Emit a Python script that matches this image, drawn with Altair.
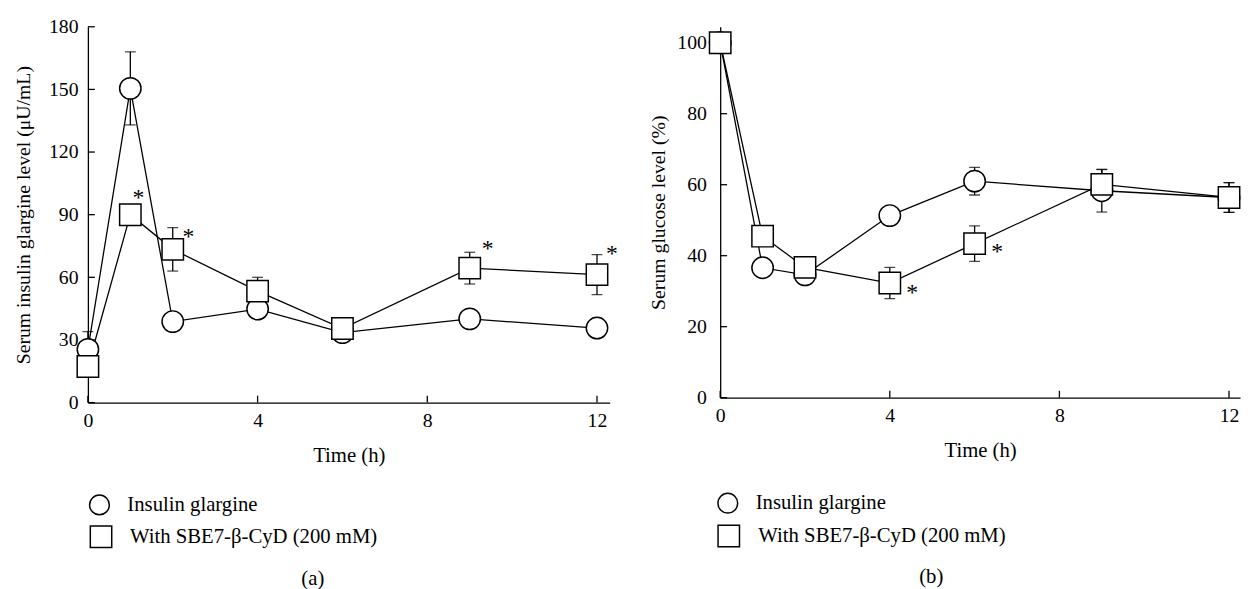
import altair as alt
import pandas as pd

FONT = "Liberation Serif"

# ---------------- data ----------------
time_h = [0, 1, 2, 4, 6, 9, 12]
series_names = ["Insulin glargine", "With SBE7-β-CyD (200 mM)"]
series_shapes = ["circle", "square"]

# Panel (a): serum insulin glargine level (μU/mL)
a_glargine = [25.5, 150.5, 38.8, 44.8, 33.5, 40.1, 35.7]
a_glargine_err = [8.5, 17.5, 0, 0, 0, 0, 0]
a_sbe = [17.3, 90.0, 73.4, 53.4, 35.5, 64.4, 61.3]
a_sbe_err = [0, 0, 10.4, 6.6, 0, 7.6, 9.6]
a_star_x = [1.19, 2.37, 9.42, 12.35]
a_star_y = [100.4, 81.8, 75.8, 73.6]
a_yticks = [0, 30, 60, 90, 120, 150, 180]

# Panel (b): serum glucose level (%)
b_glargine = [100, 36.6, 34.6, 51.3, 61.0, 58.3, 56.4]
b_glargine_err = [0, 0, 0, 0, 3.9, 6.0, 4.2]
b_sbe = [100, 45.5, 36.7, 32.3, 43.4, 60.1, 56.4]
b_sbe_err = [0, 0, 3.0, 4.4, 5.0, 4.2, 4.2]
b_star_x = [4.53, 6.53]
b_star_y = [30.9, 42.3]
b_yticks = [0, 20, 40, 60, 80, 100]

x_ticks = [0, 4, 8, 12]


def build_df(glar, glar_err, sbe, sbe_err):
    rows = []
    for name, vals, errs in [(series_names[0], glar, glar_err), (series_names[1], sbe, sbe_err)]:
        for t, v, e in zip(time_h, vals, errs):
            rows.append(dict(time=t, value=v, err=e, lo=v - e, hi=v + e, series=name))
    return pd.DataFrame(rows)


def legend_layers(sym_pos, txt_pos):
    out = []
    for i, (name, shp) in enumerate(zip(series_names, series_shapes)):
        sx, sy, ssize = sym_pos[i]
        tx, ty = txt_pos[i]
        d = pd.DataFrame({"name": [name]})
        out.append(
            alt.Chart(d).mark_point(filled=True, fill="white", stroke="black", strokeWidth=1.5,
                                    opacity=1, shape=shp, size=ssize)
            .encode(x=alt.value(sx), y=alt.value(sy))
        )
        out.append(
            alt.Chart(d).mark_text(font=FONT, fontSize=21, color="black", align="left", baseline="middle")
            .encode(text="name:N", x=alt.value(tx), y=alt.value(ty))
        )
    return out


def panel(glar, glar_err, sbe, sbe_err, star_x, star_y, yticks, ymax, xmax, W, H,
          ytitle, ylabpad, ytitlepad, sym_pos, txt_pos, caption, cap_x, cap_y):
    df = build_df(glar, glar_err, sbe, sbe_err)
    err_df = df[df["err"] > 0]
    xs = alt.Scale(domain=[0, xmax], nice=False, zero=False)
    ys = alt.Scale(domain=[0, ymax], nice=False, zero=False)

    xaxis = alt.Axis(values=x_ticks, title="Time (h)", labelPadding=8.5, titlePadding=14,
                     titleFontSize=21, labelFlush=False, format="d")
    yaxis = alt.Axis(values=yticks, title=ytitle, labelPadding=ylabpad, titlePadding=ytitlepad,
                     format="d")

    def X(f):
        return alt.X(f, scale=xs, axis=xaxis)

    def Y(f):
        return alt.Y(f, scale=ys, axis=yaxis)

    lines = alt.Chart(df).mark_line(color="black", strokeWidth=1.3).encode(
        x=X("time:Q"), y=Y("value:Q"), detail="series:N",
    )
    bars = alt.Chart(err_df).mark_rule(color="black", strokeWidth=1.3).encode(
        x=X("time:Q"), y=Y("lo:Q"), y2="hi:Q",
    )
    cap_hi = alt.Chart(err_df).mark_tick(orient="horizontal", size=11, thickness=1.3, color="black").encode(
        x=X("time:Q"), y=Y("hi:Q"),
    )
    cap_lo = alt.Chart(err_df).mark_tick(orient="horizontal", size=11, thickness=1.3, color="black").encode(
        x=X("time:Q"), y=Y("lo:Q"),
    )
    xt = alt.Chart(pd.DataFrame({"time": x_ticks})).mark_rule(color="black", strokeWidth=1.3).encode(
        x=X("time:Q"), y=alt.value(H), y2=alt.value(H - 7),
    )
    yt = alt.Chart(pd.DataFrame({"value": yticks})).mark_rule(color="black", strokeWidth=1.3).encode(
        y=Y("value:Q"), x=alt.value(0), x2=alt.value(7),
    )
    points = alt.Chart(df).mark_point(
        filled=True, fill="white", stroke="black", strokeWidth=1.5, size=471, opacity=1
    ).encode(
        x=X("time:Q"),
        y=Y("value:Q"),
        shape=alt.Shape("series:N", scale=alt.Scale(domain=series_names, range=series_shapes), legend=None),
    )
    stars = alt.Chart(pd.DataFrame({"sx": star_x, "sy": star_y})).mark_text(
        text="*", font=FONT, fontSize=24, dy=5, color="black"
    ).encode(x=X("sx:Q"), y=Y("sy:Q"))
    cap = alt.Chart(pd.DataFrame({"c": [caption]})).mark_text(
        font=FONT, fontSize=21, color="black"
    ).encode(text="c:N", x=alt.value(cap_x), y=alt.value(cap_y))

    layers = [lines, xt, yt, bars, cap_hi, cap_lo, points, stars, cap] + legend_layers(sym_pos, txt_pos)
    return alt.layer(*layers).properties(width=W, height=H)


pa = panel(a_glargine, a_glargine_err, a_sbe, a_sbe_err, a_star_x, a_star_y, a_yticks, 180, 12.3,
           529, 381, "Serum insulin glargine level (μU/mL)", 10, 15.5,
           [(11.7, 484.7, 400), (13.3, 517, 471)], [(40, 484.7), (42.7, 517)],
           "(a)", 228, 560)
pb = panel(b_glargine, b_glargine_err, b_sbe, b_sbe_err, b_star_x, b_star_y, b_yticks, 104.5, 12.26,
           527, 376, "Serum glucose level (%)", 14, 8,
           [(7.7, 483, 400), (8.7, 516.3, 471)], [(36, 483), (38.7, 516.3)],
           "(b)", 214, 558)

chart = (
    alt.hconcat(pa, pb, spacing=31)
    .resolve_scale(shape="independent")
    .properties(padding={"left": 5, "top": 5, "right": 0, "bottom": 0}, background="white")
    .configure_view(stroke=None)
    .configure_axis(
        labelFont=FONT, titleFont=FONT, labelFontSize=20, titleFontSize=20,
        labelColor="black", titleColor="black", titleFontWeight="normal",
        domainColor="black", domainWidth=1.3, grid=False, ticks=False, tickSize=0,
    )
)

chart.save("out.html", embed_options={"renderer": "svg", "actions": False})
